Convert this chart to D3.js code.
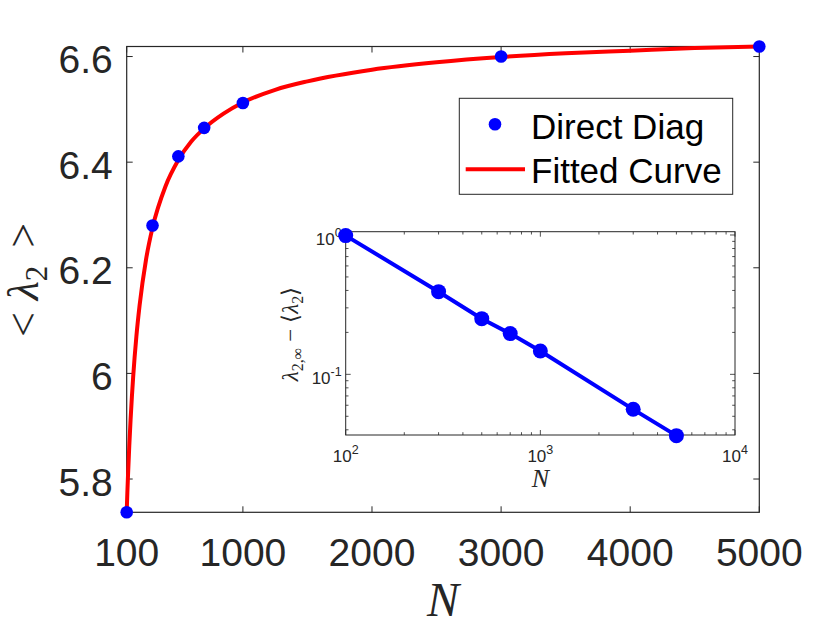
<!DOCTYPE html>
<html>
<head>
<meta charset="utf-8">
<script src="https://cdn.jsdelivr.net/npm/d3@7"></script>
<style>
  body { margin: 0; background: #fff; }
  svg { display: block; }
  .tick-label { font-family: "Liberation Sans", Arial, Helvetica, sans-serif; fill: #262626; }
  .math { font-family: "Liberation Serif", "Times New Roman", serif; fill: #262626; }
</style>
</head>
<body>
<svg id="chart"></svg>
<script>
// main panel: direct diagonalisation points
const sizeN = [100, 300, 500, 700, 1000, 3000, 5000];
const lambdaAvg = [5.737, 6.280, 6.411, 6.465, 6.512, 6.600, 6.619];

// fitted curve
const fitN = [100, 105, 110, 120, 130, 140, 150, 175, 200, 250, 300, 400, 500, 600, 700, 850,
  1000, 1250, 1500, 2000, 2500, 3000, 3500, 4000, 4500, 5000];
const fitLambda = [5.737, 5.774, 5.806, 5.863, 5.912, 5.955, 5.993, 6.070, 6.129, 6.216, 6.276, 6.354,
  6.404, 6.439, 6.464, 6.492, 6.513, 6.537, 6.553, 6.575, 6.589, 6.599, 6.606, 6.611, 6.616, 6.619];

// inset: lambda_inf - <lambda_2> on log-log axes
const insetN = [100, 300, 500, 700, 1000, 3000, 5000];
const insetGap = [0.99, 0.392, 0.251, 0.196, 0.147, 0.0561, 0.0363];

const xTicks = [100, 1000, 2000, 3000, 4000, 5000];
const yTicks = [5.8, 6, 6.2, 6.4, 6.6];
const insetXExp = [2, 3, 4];
const insetYExp = [0, -1];

const W = 840, H = 630;
const svg = d3.select('#chart').attr('width', W).attr('height', H);
const ink = '#262626';

// ---------- main axes ----------
const box = { left: 126.7, right: 759.3, top: 46.5, bottom: 512.3 };

const x = d3.scaleLinear().domain([100, 5000]).range([box.left, box.right]);
const y = d3.scaleLinear().domain([5.737, 6.619]).range([box.bottom, box.top]);

const main = svg.append('g');

// ticks pointing inward on all four sides (matlab box on)
const tickLen = 6;
xTicks.forEach(t => {
  main.append('line').attr('x1', x(t)).attr('x2', x(t))
    .attr('y1', box.bottom).attr('y2', box.bottom - tickLen).attr('stroke', ink);
  main.append('line').attr('x1', x(t)).attr('x2', x(t))
    .attr('y1', box.top).attr('y2', box.top + tickLen).attr('stroke', ink);
  main.append('text').attr('class', 'tick-label')
    .attr('x', x(t)).attr('y', box.bottom + 54)
    .attr('text-anchor', 'middle').attr('font-size', 39)
    .text(t);
});
yTicks.forEach(t => {
  main.append('line').attr('x1', box.left).attr('x2', box.left + tickLen)
    .attr('y1', y(t)).attr('y2', y(t)).attr('stroke', ink);
  main.append('line').attr('x1', box.right).attr('x2', box.right - tickLen)
    .attr('y1', y(t)).attr('y2', y(t)).attr('stroke', ink);
  main.append('text').attr('class', 'tick-label')
    .attr('x', 112.7).attr('y', y(t) + 16.7)
    .attr('text-anchor', 'end').attr('font-size', 39)
    .text(d3.format('~g')(t));
});

main.append('rect')
  .attr('x', box.left).attr('y', box.top)
  .attr('width', box.right - box.left).attr('height', box.bottom - box.top)
  .attr('fill', 'none').attr('stroke', ink).attr('stroke-width', 1.2);

// axis labels
main.append('text').attr('class', 'math')
  .attr('x', (box.left + box.right) / 2).attr('y', 616)
  .attr('text-anchor', 'middle').attr('font-size', 48).attr('font-style', 'italic')
  .text('N');

const ylab = main.append('text').attr('class', 'math')
  .attr('transform', 'translate(38,280) rotate(-90)')
  .attr('text-anchor', 'middle').attr('font-size', 44);
ylab.append('tspan').text('<');
ylab.append('tspan').attr('dx', 12).attr('font-style', 'italic').text('λ');
ylab.append('tspan').attr('dy', 9).attr('font-size', 31).text('2');
ylab.append('tspan').attr('dy', -9).attr('dx', 18).text('>');

// fitted curve
const line = d3.line()
  .x((d, i) => x(fitN[i]))
  .y(d => y(d))
  .curve(d3.curveMonotoneX);

main.append('path')
  .datum(fitLambda)
  .attr('d', line)
  .attr('fill', 'none')
  .attr('stroke', '#ff0000')
  .attr('stroke-width', 4);

main.selectAll('.pt')
  .data(lambdaAvg)
  .join('circle')
  .attr('class', 'pt')
  .attr('cx', (d, i) => x(sizeN[i]))
  .attr('cy', d => y(d))
  .attr('r', 6.3)
  .attr('fill', '#0000ff');

// ---------- legend ----------
const leg = svg.append('g');
leg.append('rect')
  .attr('x', 459.3).attr('y', 98.3).attr('width', 273.4).attr('height', 96)
  .attr('fill', '#fff').attr('stroke', ink).attr('stroke-width', 1);
leg.append('circle').attr('cx', 495).attr('cy', 124.3).attr('r', 6.3).attr('fill', '#0000ff');
leg.append('line').attr('x1', 465.7).attr('x2', 525).attr('y1', 169.3).attr('y2', 169.3)
  .attr('stroke', '#ff0000').attr('stroke-width', 4);
leg.append('text').attr('class', 'tick-label').style('fill', '#000')
  .attr('x', 531).attr('y', 139).attr('font-size', 35).text('Direct Diag');
leg.append('text').attr('class', 'tick-label').style('fill', '#000')
  .attr('x', 531).attr('y', 183.3).attr('font-size', 35).text('Fitted Curve');

// ---------- inset ----------
const ib = { left: 345.7, right: 735, top: 231.7, bottom: 435 };
const xi = d3.scaleLog().domain([100, 10000]).range([ib.left, ib.right]);
const yi = d3.scaleLog().domain([0.0367, 1.056]).range([ib.bottom, ib.top]);

const inset = svg.append('g');
inset.append('rect')
  .attr('x', ib.left).attr('y', ib.top)
  .attr('width', ib.right - ib.left).attr('height', ib.bottom - ib.top)
  .attr('fill', '#fff');

// minor + major ticks on a log axis
function logTicks(scale) {
  const [a, b] = scale.domain();
  const out = [];
  for (let e = Math.floor(Math.log10(a)); e <= Math.ceil(Math.log10(b)); e++) {
    for (let k = 1; k <= 9; k++) {
      const v = k * Math.pow(10, e);
      if (v >= a * 0.999 && v <= b * 1.001) out.push({ v: v, major: k === 1 });
    }
  }
  return out;
}

logTicks(xi).forEach(t => {
  const len = t.major ? 5 : 2.8;
  inset.append('line').attr('x1', xi(t.v)).attr('x2', xi(t.v))
    .attr('y1', ib.bottom).attr('y2', ib.bottom - len).attr('stroke', ink).attr('stroke-width', 0.8);
  inset.append('line').attr('x1', xi(t.v)).attr('x2', xi(t.v))
    .attr('y1', ib.top).attr('y2', ib.top + len).attr('stroke', ink).attr('stroke-width', 0.8);
});
logTicks(yi).forEach(t => {
  const len = t.major ? 5 : 2.8;
  inset.append('line').attr('x1', ib.left).attr('x2', ib.left + len)
    .attr('y1', yi(t.v)).attr('y2', yi(t.v)).attr('stroke', ink).attr('stroke-width', 0.8);
  inset.append('line').attr('x1', ib.right).attr('x2', ib.right - len)
    .attr('y1', yi(t.v)).attr('y2', yi(t.v)).attr('stroke', ink).attr('stroke-width', 0.8);
});

inset.append('rect')
  .attr('x', ib.left).attr('y', ib.top)
  .attr('width', ib.right - ib.left).attr('height', ib.bottom - ib.top)
  .attr('fill', 'none').attr('stroke', ink).attr('stroke-width', 1);

insetXExp.forEach(e => {
  const t = inset.append('text').attr('class', 'tick-label')
    .attr('x', xi(Math.pow(10, e))).attr('y', ib.bottom + 27)
    .attr('text-anchor', 'middle').attr('font-size', 17);
  t.append('tspan').text('10');
  t.append('tspan').attr('dy', -8).attr('font-size', 12.5).text(e);
});
insetYExp.forEach(e => {
  const t = inset.append('text').attr('class', 'tick-label')
    .attr('x', ib.left - 4).attr('y', yi(Math.pow(10, e)) + 10)
    .attr('text-anchor', 'end').attr('font-size', 17);
  t.append('tspan').text('10');
  t.append('tspan').attr('dy', -8).attr('font-size', 12.5).text(e);
});

inset.append('text').attr('class', 'math')
  .attr('x', (ib.left + ib.right) / 2).attr('y', 487)
  .attr('text-anchor', 'middle').attr('font-size', 26).attr('font-style', 'italic')
  .text('N');

const il = inset.append('text').attr('class', 'math')
  .attr('transform', 'translate(298,334) rotate(-90)')
  .attr('text-anchor', 'middle').attr('font-size', 23);
il.append('tspan').attr('font-style', 'italic').text('λ');
il.append('tspan').attr('dy', 5).attr('font-size', 16).text('2,∞');
il.append('tspan').attr('dy', -5).attr('dx', 6).text('−');
il.append('tspan').attr('dx', 6).text('⟨');
il.append('tspan').attr('font-style', 'italic').text('λ');
il.append('tspan').attr('dy', 5).attr('font-size', 16).text('2');
il.append('tspan').attr('dy', -5).text('⟩');

const iline = d3.line()
  .x((d, i) => xi(insetN[i]))
  .y(d => yi(d));

inset.append('path')
  .datum(insetGap)
  .attr('d', iline)
  .attr('fill', 'none')
  .attr('stroke', '#0000ff')
  .attr('stroke-width', 4);

inset.selectAll('.ipt')
  .data(insetGap)
  .join('circle')
  .attr('class', 'ipt')
  .attr('cx', (d, i) => xi(insetN[i]))
  .attr('cy', d => yi(d))
  .attr('r', 7.5)
  .attr('fill', '#0000ff');
</script>
</body>
</html>
